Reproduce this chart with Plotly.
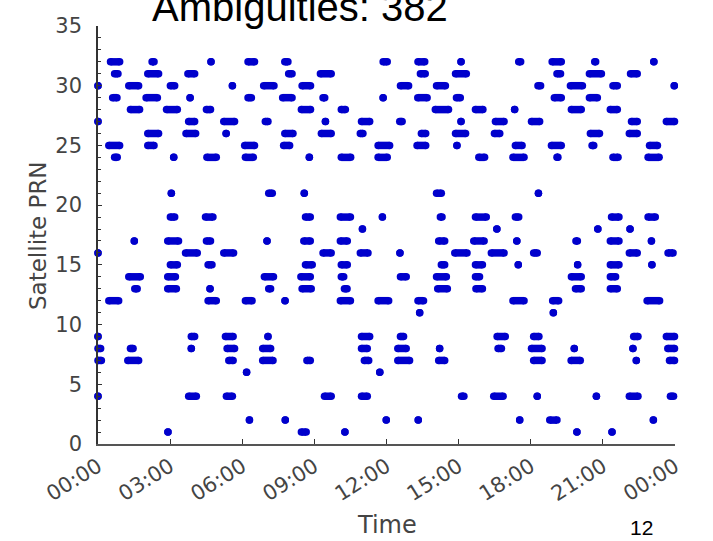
import plotly.graph_objects as go

# Ambiguity arcs: satellite PRN, start hour, end hour (dots have start == end)
prn = (
    [32]*12 + [31]*10 + [30]*12 + [29]*11 + [28]*10 + [27]*12 + [26]*11 + [25]*11 + [24]*12
    + [21]*5 + [19]*10 + [18]*4 + [17]*12 + [16]*11 + [15]*10 + [14]*10 + [13]*10 + [12]*10 + [11]*2
    + [9]*10 + [8]*13 + [7]*12 + [6]*2 + [4]*11 + [2]*7 + [1]*5
)
t_start = [
    # 32
    0.52, 2.25, 4.70, 6.24, 7.77, 11.86, 13.31, 15.10, 17.50, 18.89, 20.66, 23.12,
    # 31
    0.69, 2.07, 3.74, 7.93, 9.25, 13.41, 14.87, 19.09, 20.44, 22.15,
    # 30
    0.00, 1.28, 3.01, 5.59, 6.89, 8.49, 12.58, 14.08, 18.30, 19.65, 21.42, 23.97,
    # 29
    0.61, 2.00, 3.83, 6.24, 7.68, 9.36, 11.86, 13.30, 14.91, 18.98, 20.44,
    # 28
    1.35, 2.85, 4.51, 8.46, 10.12, 14.03, 15.70, 17.33, 19.69, 21.31,
    # 27
    0.00, 3.77, 5.23, 6.96, 9.46, 10.96, 12.55, 15.10, 16.53, 18.03, 22.19, 23.64,
    # 26
    2.07, 3.66, 5.33, 7.77, 9.29, 10.91, 13.45, 14.87, 16.49, 20.48, 22.10,
    # 25
    0.45, 2.07, 6.10, 7.72, 11.65, 13.27, 14.93, 17.36, 18.86, 20.55, 22.94,
    # 24
    0.69, 3.15, 4.53, 6.13, 8.79, 10.12, 11.65, 15.84, 17.26, 19.09, 21.42, 22.88,
    # 21
    3.05, 7.10, 8.58, 14.08, 18.32,
    # 19
    3.01, 4.47, 8.63, 10.08, 11.83, 14.24, 15.70, 17.36, 21.36, 22.88,
    # 18
    11.00, 16.59, 20.79, 22.13,
    # 17
    1.51, 2.90, 4.51, 7.03, 8.56, 10.08, 14.17, 15.63, 17.42, 19.88, 21.31, 23.02,
    # 16
    0.00, 3.64, 5.23, 9.36, 10.91, 12.56, 14.84, 16.36, 18.12, 22.10, 23.71,
    # 15
    3.01, 4.58, 8.63, 10.12, 14.28, 15.70, 17.48, 19.95, 21.31, 23.04,
    # 14
    1.28, 2.90, 6.92, 8.44, 10.12, 12.58, 14.08, 15.70, 19.69, 21.31,
    # 13
    1.53, 2.90, 4.66, 7.10, 8.49, 10.25, 14.13, 15.72, 19.86, 21.31,
    # 12
    0.45, 4.58, 6.13, 7.78, 10.08, 11.65, 13.31, 17.26, 18.91, 22.84,
    # 11
    13.38, 18.94,
    # 9
    0.00, 3.88, 5.30, 7.07, 10.96, 12.58, 16.60, 18.12, 22.28, 23.64,
    # 8
    0.00, 1.35, 3.88, 5.37, 6.85, 10.96, 12.47, 14.21, 16.64, 18.03, 19.81, 22.25, 23.70,
    # 7
    0.00, 1.24, 5.44, 6.85, 8.69, 11.08, 12.47, 14.17, 18.12, 19.68, 22.39, 23.77,
    # 6
    6.18, 11.72,
    # 4
    0.00, 3.77, 5.34, 9.42, 10.96, 15.12, 16.46, 18.27, 20.73, 22.10, 23.81,
    # 2
    6.30, 7.79, 11.99, 13.32, 17.54, 18.79, 23.10,
    # 1
    2.91, 8.46, 10.27, 19.92, 21.38,
]
t_end = [
    # 32
    0.90, 2.33, 4.70, 6.51, 7.90, 12.03, 13.59, 15.10, 17.58, 19.27, 20.70, 23.12,
    # 31
    0.83, 2.52, 4.02, 8.07, 9.70, 13.61, 15.32, 19.24, 20.94, 22.43,
    # 30
    0.00, 1.69, 3.19, 5.59, 7.32, 8.84, 12.92, 14.45, 18.41, 20.15, 21.60, 23.97,
    # 29
    0.79, 2.47, 3.83, 6.38, 8.07, 9.43, 11.86, 13.69, 15.07, 19.27, 20.77,
    # 28
    1.73, 3.30, 4.68, 8.84, 10.29, 14.58, 16.01, 17.33, 20.10, 21.60,
    # 27
    0.00, 4.02, 5.68, 7.07, 9.46, 11.30, 12.65, 15.10, 16.89, 18.37, 22.43, 23.98,
    # 26
    2.52, 4.06, 5.33, 8.11, 9.70, 11.02, 13.63, 15.29, 16.71, 20.86, 22.43,
    # 25
    0.90, 2.33, 6.51, 7.97, 12.13, 13.63, 14.93, 17.64, 19.27, 20.62, 23.27,
    # 24
    0.80, 3.15, 4.92, 6.46, 8.79, 10.51, 12.03, 16.08, 17.72, 19.13, 21.63, 23.34,
    # 21
    3.05, 7.25, 8.58, 14.28, 18.32,
    # 19
    3.19, 4.78, 8.83, 10.50, 11.83, 14.31, 16.15, 17.50, 21.67, 23.18,
    # 18
    11.00, 16.59, 20.79, 22.13,
    # 17
    1.51, 3.35, 4.68, 7.03, 8.83, 10.37, 14.42, 16.06, 17.42, 19.94, 21.67, 23.02,
    # 16
    0.00, 4.13, 5.64, 9.70, 11.23, 12.56, 15.35, 16.89, 18.27, 22.43, 23.92,
    # 15
    3.30, 4.74, 8.91, 10.37, 14.42, 15.99, 17.48, 19.95, 21.67, 23.04,
    # 14
    1.76, 3.22, 7.30, 8.83, 10.22, 12.82, 14.49, 15.87, 20.10, 21.53,
    # 13
    1.63, 3.26, 4.66, 7.18, 8.87, 10.36, 14.53, 15.99, 20.10, 21.60,
    # 12
    0.86, 4.92, 6.41, 7.78, 10.50, 12.09, 13.54, 17.72, 19.16, 23.36,
    # 11
    13.38, 18.94,
    # 9
    0.00, 4.02, 5.62, 7.07, 11.30, 12.71, 16.94, 18.34, 22.46, 23.98,
    # 8
    0.11, 1.46, 3.88, 5.68, 7.18, 11.20, 12.82, 14.21, 16.78, 18.47, 19.81, 22.25, 23.98,
    # 7
    0.14, 1.69, 5.62, 7.28, 8.83, 11.26, 12.96, 14.42, 18.47, 20.06, 22.39, 23.98,
    # 6
    6.18, 11.72,
    # 4
    0.00, 4.09, 5.59, 9.70, 11.20, 15.22, 16.85, 18.27, 20.73, 22.46, 23.94,
    # 2
    6.30, 7.79, 11.99, 13.32, 17.54, 19.09, 23.10,
    # 1
    2.91, 8.66, 10.27, 19.92, 21.38,
]

x_tickvals = [0, 3, 6, 9, 12, 15, 18, 21, 24]
x_ticktext = ["00:00", "03:00", "06:00", "09:00", "12:00", "15:00", "18:00", "21:00", "00:00"]
y_tickvals = [0, 5, 10, 15, 20, 25, 30, 35]

title_text = "Ambiguities: 382"
x_title = "Time"
y_title = "Satellite PRN"
page_number = "12"

BLUE = "#0000cc"

lx, ly = [], []
for p, s, e in zip(prn, t_start, t_end):
    lx += [s, e, None]
    ly += [p, p, None]

fig = go.Figure()
fig.add_trace(go.Scatter(x=lx, y=ly, mode="lines",
                         line=dict(color=BLUE, width=7.5),
                         hoverinfo="skip", showlegend=False))
fig.add_trace(go.Scatter(x=t_start + t_end, y=prn + prn, mode="markers",
                         marker=dict(color=BLUE, size=7.5, line=dict(width=0)),
                         cliponaxis=False, showlegend=False))

tick_font = dict(family="DejaVu Sans", size=21, color="#444444")
fig.update_layout(
    width=713, height=541,
    margin=dict(l=98, r=38, t=26, b=97),
    paper_bgcolor="white", plot_bgcolor="white",
    xaxis=dict(range=[0, 24], tickvals=x_tickvals, ticktext=x_ticktext,
               tickangle=-32, ticks="inside", ticklen=5, tickcolor="#333333",
               showline=True, linecolor="#555555", linewidth=2,
               showgrid=False, zeroline=False, tickfont=tick_font),
    yaxis=dict(range=[0, 35], tickvals=y_tickvals,
               ticks="inside", ticklen=4, tickcolor="#333333",
               ticklabelstandoff=10,
               minor=dict(dtick=1, ticks="inside", ticklen=3, tickcolor="#333333", showgrid=False),
               showline=True, linecolor="#333333", linewidth=1.5,
               showgrid=False, zeroline=False, tickfont=tick_font),
    annotations=[
        dict(text=title_text, x=0.35, xref="paper", y=1.045, yref="paper",
             xanchor="center", yanchor="middle", showarrow=False,
             font=dict(family="Liberation Sans", size=40, color="black")),
        dict(text=x_title, x=0.5, xref="paper", y=-0.193, yref="paper",
             xanchor="center", yanchor="middle", showarrow=False,
             font=dict(family="DejaVu Sans", size=24, color="#444444")),
        dict(text=y_title, x=-0.104, xref="paper", y=0.5, yref="paper",
             xanchor="center", yanchor="middle", showarrow=False, textangle=-90,
             font=dict(family="DejaVu Sans", size=23, color="#444444")),
        dict(text=page_number, x=0.942, xref="paper", y=-0.2, yref="paper",
             xanchor="center", yanchor="middle", showarrow=False,
             font=dict(family="Liberation Sans", size=21, color="black")),
    ],
)

fig.write_html("out.html")
